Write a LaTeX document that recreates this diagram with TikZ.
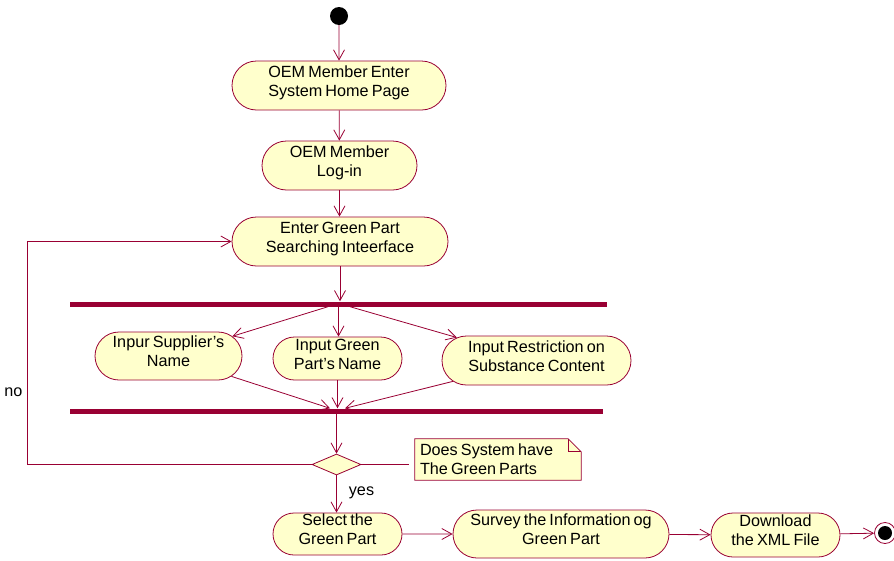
\documentclass[tikz,border=0pt]{standalone}
\usepackage{fontspec}
\setmainfont[WordSpace=0.7]{Liberation Sans}
\usetikzlibrary{arrows.meta,shapes.misc,shapes.geometric}

\definecolor{umlline}{RGB}{153,0,51}
\definecolor{umlfill}{RGB}{255,255,204}

\tikzset{
  every node/.style={font=\fontsize{16.2}{19}\selectfont},
  activity/.style={rounded rectangle, draw=umlline, fill=umlfill, line width=0.8pt,
    inner sep=0pt, align=center, text depth=9pt},
  syncbar/.style={rectangle, fill=umlline, inner sep=0pt, minimum height=5pt},
  decision/.style={diamond, draw=umlline, fill=umlfill, line width=0.8pt, inner sep=0pt,
    minimum width=49pt, minimum height=21pt},
  flow/.style={draw=umlline, line width=0.8pt, -{Straight Barb[length=10pt,width=11pt]}},
  plainline/.style={draw=umlline, line width=0.8pt},
  notebox/.style={draw=umlline, fill=umlfill, line width=0.8pt},
  label text/.style={inner sep=0pt}
}

\begin{document}
\begin{tikzpicture}[x=1pt,y=-1pt]
\useasboundingbox (0,0) rectangle (894,560);

% initial state
\node (start) [circle, fill=black, minimum size=18pt, inner sep=0pt] at (339,16) {};

% main chain
\node (home) [activity, minimum width=214pt, minimum height=49pt] at (339,85.5)
  {OEM Member Enter\\System Home Page};
\node (login) [activity, minimum width=155pt, minimum height=49pt] at (339.5,165.5)
  {OEM Member\\Log-in};
\node (search) [activity, minimum width=216pt, minimum height=49pt] at (340,241.5)
  {Enter Green Part\\Searching Inteerface};

% fork / join bars
\node (fork) [syncbar, minimum width=537pt] at (338.5,304) {};
\node (join) [syncbar, minimum width=533pt] at (336.5,411) {};

% parallel inputs
\node (supplier) [activity, minimum width=147pt, minimum height=48pt] at (168.5,356)
  {Inpur Supplier's\\Name};
\node (partname) [activity, minimum width=129pt, minimum height=43pt] at (337.5,358.5)
  {Input Green\\Part's Name};
\node (restrict) [activity, minimum width=189pt, minimum height=49pt] at (536.5,360.5)
  {Input Restriction on\\Substance Content};

% decision and note
\node (check) [decision] at (336.5,464.5) {};
\node (note) [minimum width=166pt, minimum height=41pt, inner sep=0pt] at (498,459.5) {};
\path[notebox] (note.north west) -- ([xshift=-13pt]note.north east)
  -- ([yshift=-13pt]note.north east) -- (note.south east) -- (note.south west) -- cycle;
\draw[plainline] ([xshift=-13pt]note.north east) |- ([yshift=-13pt]note.north east);
\node (notetext) [anchor=west, align=left, inner sep=0pt] at ([xshift=5pt]note.west)
  {Does System have\\The Green Parts};

% lower chain
\node (select) [activity, minimum width=129pt, minimum height=42pt] at (337.5,534)
  {Select the\\Green Part};
\node (survey) [activity, minimum width=216pt, minimum height=48pt] at (561,534)
  {Survey the Information og\\Green Part};
\node (download) [activity, minimum width=129pt, minimum height=44pt] at (775.5,535)
  {Download\\the XML File};

% final state
\node (final) [circle, draw=umlline, fill=white, line width=0.8pt, minimum size=21pt, inner sep=0pt] at (885,533) {};
\node (finaldot) [circle, fill=black, minimum size=14pt, inner sep=0pt] at (final.center) {};

% guard labels
\node (nolabel) [label text] at (13.5,392) {no};
\node (yeslabel) [label text] at (361.5,493) {yes};

% transitions
\draw[flow] (start) -- (home);
\draw[flow] (home) -- (login);
\draw[flow] (login.south) -- (login.south |- search.north);
\draw[flow] (search.south) -- (search.south |- fork.north);

\draw[flow] ([xshift=-10.5pt]fork.south) -- (supplier);
\draw[flow] (fork.south) -- (fork.south |- partname.north);
\draw[flow] ([xshift=11.5pt]fork.south) -- (restrict);

\draw[flow] (supplier) -- ([xshift=-6.5pt]join.north);
\draw[flow] (partname.south) -- (partname.south |- join.north);
\draw[flow] (restrict) -- ([xshift=8.5pt]join.north);

\draw[flow] (join.south -| check.north) -- (check.north);
\draw[plainline, shorten >=6pt] (check.east) -- (check.east -| note.west);

\coordinate (loopx) at (27,0);
\draw[flow] (check.west) -| (loopx |- search.west) -- (search.west);

\draw[flow] (check.south) -- (check.south |- select.north);
\draw[flow] (select) -- (survey);
\draw[flow] (survey) -- (download);
\draw[flow] (download) -- (final);
\end{tikzpicture}
\end{document}
